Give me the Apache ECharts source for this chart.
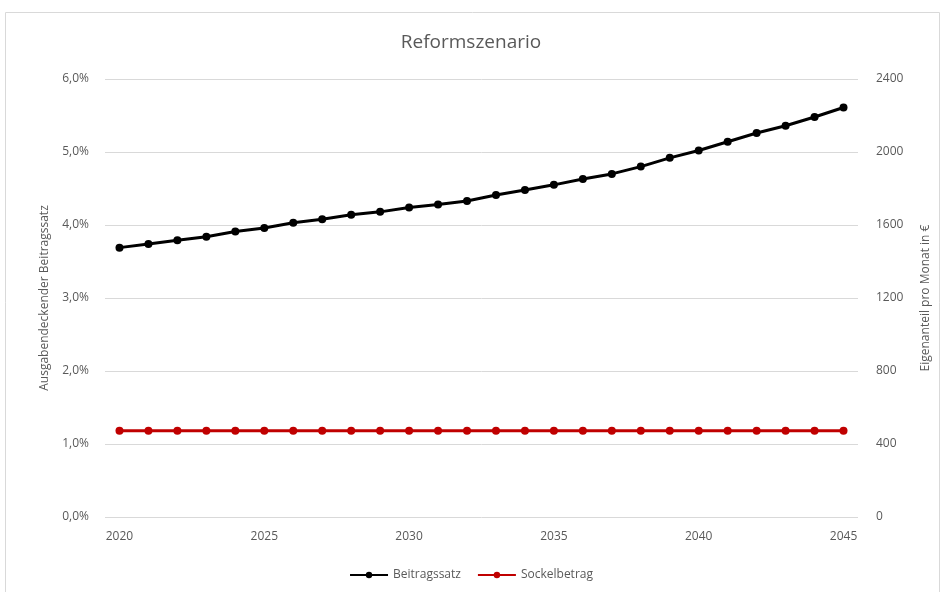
<!DOCTYPE html>
<html><head><meta charset="utf-8">
<script src="https://cdn.jsdelivr.net/npm/echarts@6/dist/echarts.min.js"></script>
<style>html,body{margin:0;padding:0;background:#fff}#c{width:942px;height:592px}</style>
</head><body><div id="c"></div>
<script>
const years = ['2020','2021','2022','2023','2024','2025','2026','2027','2028','2029','2030','2031','2032','2033','2034','2035','2036','2037','2038','2039','2040','2041','2042','2043','2044','2045'];
const beitragssatz = [3.69,3.74,3.79,3.84,3.91,3.96,4.03,4.08,4.14,4.18,4.24,4.28,4.33,4.41,4.48,4.55,4.63,4.70,4.80,4.92,5.02,5.14,5.26,5.36,5.48,5.61];
const sockelbetrag = [473,473,473,473,473,473,473,473,473,473,473,473,473,473,473,473,473,473,473,473,473,473,473,473,473,473];
const leftTicks = {min:0, max:6, interval:1};
const rightTicks = {min:0, max:2400, interval:400};

const FONT = '"Open Sans",sans-serif';
const chart = echarts.init(document.getElementById('c'), null, {renderer:'canvas'});
chart.setOption({
  animation:false,
  textStyle:{fontFamily:FONT},
  graphic:[{type:'rect',shape:{x:5.5,y:12.5,width:934,height:590},style:{fill:'none',stroke:'#d9d9d9',lineWidth:1},silent:true}],
  title:{text:'Reformszenario',left:'center',top:28,textStyle:{fontFamily:FONT,fontSize:19,fontWeight:'normal',color:'#595959'}},
  legend:{bottom:6,left:'center',itemWidth:38,itemHeight:8,itemGap:16,
    textStyle:{fontFamily:FONT,fontSize:12,color:'#595959'},
    data:['Beitragssatz','Sockelbetrag']},
  grid:{left:105,right:84,top:79,bottom:75,containLabel:false},
  xAxis:{type:'category',data:years,boundaryGap:true,
    axisLine:{show:false},axisTick:{show:false},
    axisLabel:{interval:4,color:'#595959',fontSize:12,margin:14,fontFamily:FONT}},
  yAxis:[
    {type:'value',min:leftTicks.min,max:leftTicks.max,interval:leftTicks.interval,
     name:'Ausgabendeckender Beitragssatz',nameLocation:'middle',nameGap:54,nameRotate:90,
     nameTextStyle:{color:'#595959',fontSize:12,fontFamily:FONT},
     axisLine:{show:false},axisTick:{show:false},
     axisLabel:{color:'#595959',fontSize:12,margin:16,fontFamily:FONT,formatter:v=>v.toFixed(1).replace('.',',')+'%'},
     splitLine:{lineStyle:{color:'#d9d9d9',width:1}}},
    {type:'value',min:rightTicks.min,max:rightTicks.max,interval:rightTicks.interval,position:'right',
     name:'Eigenanteil pro Monat in €',nameLocation:'middle',nameGap:62,nameRotate:90,
     nameTextStyle:{color:'#595959',fontSize:12,fontFamily:FONT},
     axisLine:{show:false},axisTick:{show:false},
     axisLabel:{color:'#595959',fontSize:12,margin:18,fontFamily:FONT,formatter:v=>String(v)},
     splitLine:{show:false}}
  ],
  series:[
    {name:'Beitragssatz',type:'line',yAxisIndex:0,data:beitragssatz,symbol:'circle',symbolSize:8,
     lineStyle:{color:'#000',width:3},itemStyle:{color:'#000'},z:3},
    {name:'Sockelbetrag',type:'line',yAxisIndex:1,data:sockelbetrag,symbol:'circle',symbolSize:8,
     lineStyle:{color:'#C00000',width:3},itemStyle:{color:'#C00000'},z:2}
  ]
});
</script></body></html>
